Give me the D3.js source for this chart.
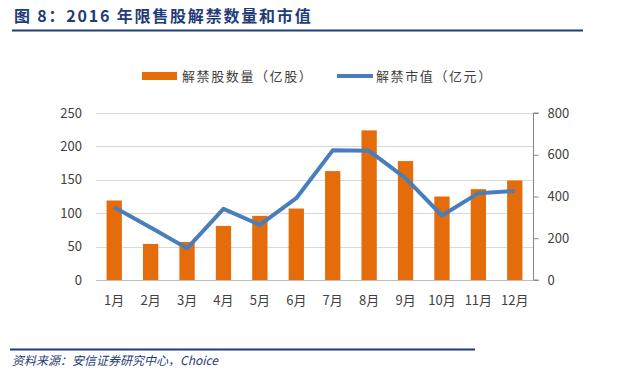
<!DOCTYPE html>
<html><head><meta charset="utf-8">
<script src="https://cdn.jsdelivr.net/npm/d3@7"></script>
<style>body{margin:0;background:#fff;}svg{display:block;}</style>
</head><body>
<script>
const months = ["1月","2月","3月","4月","5月","6月","7月","8月","9月","10月","11月","12月"];
const shares = [119, 54, 57, 81, 96, 107, 163, 224, 178, 125, 136, 149];
const marketValue = [349, 251, 152, 341, 264, 392, 621, 619, 488, 309, 416, 426];
const leftTicks = [0, 50, 100, 150, 200, 250];
const rightTicks = [0, 200, 400, 600, 800];
const seriesNames = ["解禁股数量（亿股）", "解禁市值（亿元）"];

const W = 640, H = 373;
const font = "'Noto Sans CJK SC', 'Liberation Sans', Arial, sans-serif";
const svg = d3.select("body").append("svg").attr("width", W).attr("height", H);

// title
svg.append("text").attr("x", 14).attr("y", 22).attr("font-family", font)
  .attr("font-size", 16).attr("font-weight", "bold").attr("fill", "#1F3C78")
  .attr("letter-spacing", 1.8)
  .text("图 8：2016 年限售股解禁数量和市值");
svg.append("line").attr("x1", 12).attr("x2", 583).attr("y1", 30.5).attr("y2", 30.5)
  .attr("stroke", "#1F3C78").attr("stroke-width", 2);

const x0 = 96, x1 = 533, yTop = 113, yBot = 280;
const x = d3.scaleBand().domain(months).range([x0, x1]).paddingInner(0.58).paddingOuter(0.29);
const yL = d3.scaleLinear().domain([0, 250]).range([yBot, yTop]);
const yR = d3.scaleLinear().domain([0, 800]).range([yBot, yTop]);

// grid
svg.append("g").selectAll("line").data(leftTicks).join("line")
  .attr("x1", x0).attr("x2", x1)
  .attr("y1", d => Math.round(yL(d)) + 0.5).attr("y2", d => Math.round(yL(d)) + 0.5)
  .attr("stroke", d => d === 0 ? "#bfbfbf" : "#d9d9d9").attr("stroke-width", 1);

// left tick labels
svg.append("g").selectAll("text").data(leftTicks).join("text")
  .attr("x", 82).attr("y", d => yL(d)).attr("dy", "0.35em").attr("text-anchor", "end")
  .attr("font-family", font).attr("font-size", 13).attr("fill", "#404040").text(d => d);

// right axis
const rAxis = d3.axisRight(yR).tickValues(rightTicks).tickSize(5).tickPadding(9);
const rg = svg.append("g").attr("transform", `translate(${x1 + 0.5},0)`).call(rAxis);
rg.select(".domain").attr("stroke", "#868686").attr("d", `M5,${yTop}H0V${yBot}H5`);
rg.selectAll(".tick line").attr("stroke", "#868686");
rg.selectAll(".tick text").attr("font-family", font).attr("font-size", 13).attr("fill", "#404040");

// bars
svg.append("g").selectAll("rect").data(shares).join("rect")
  .attr("x", (d, i) => x(months[i])).attr("width", x.bandwidth())
  .attr("y", d => yL(d)).attr("height", d => yBot - yL(d))
  .attr("fill", "#E46C0A");

// line
const line = d3.line().x((d, i) => x(months[i]) + x.bandwidth() / 2).y(d => yR(d));
svg.append("path").datum(marketValue).attr("d", line).attr("fill", "none")
  .attr("stroke", "#4A7EBB").attr("stroke-width", 4).attr("stroke-linejoin", "round");

// x labels
svg.append("g").selectAll("text").data(months).join("text")
  .attr("x", d => x(d) + x.bandwidth() / 2).attr("y", 300).attr("dy", "0.35em")
  .attr("text-anchor", "middle").attr("font-family", font).attr("font-size", 13)
  .attr("fill", "#404040").text(d => d);

// legend
const lg = svg.append("g");
lg.append("rect").attr("x", 142).attr("y", 72).attr("width", 35).attr("height", 8).attr("fill", "#E46C0A");
lg.append("text").attr("x", 182).attr("y", 76).attr("dy", "0.35em").attr("font-family", font)
  .attr("font-size", 13).attr("fill", "#404040").attr("letter-spacing", 1.6).text(seriesNames[0]);
lg.append("line").attr("x1", 337).attr("x2", 373).attr("y1", 76).attr("y2", 76)
  .attr("stroke", "#4A7EBB").attr("stroke-width", 4);
lg.append("text").attr("x", 376).attr("y", 76).attr("dy", "0.35em").attr("font-family", font)
  .attr("font-size", 13).attr("fill", "#404040").attr("letter-spacing", 1.6).text(seriesNames[1]);

// footer
svg.append("line").attr("x1", 10).attr("x2", 475).attr("y1", 349.5).attr("y2", 349.5)
  .attr("stroke", "#1F3C78").attr("stroke-width", 2);
svg.append("text").attr("x", 12).attr("y", 365).attr("font-family", font)
  .attr("font-size", 12).attr("font-style", "italic").attr("fill", "#1F3C78")
  .text("资料来源：安信证券研究中心，Choice");
</script>
</body></html>
